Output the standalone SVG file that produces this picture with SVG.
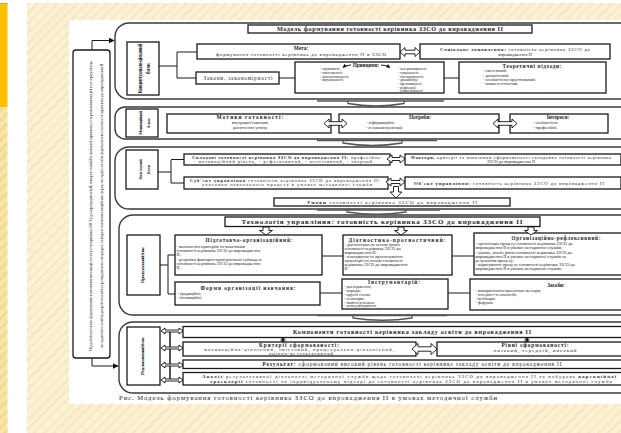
<svg xmlns="http://www.w3.org/2000/svg" width="621" height="433" viewBox="0 0 621 433">
<defs>
<pattern id="st" width="7" height="7" patternUnits="userSpaceOnUse" patternTransform="rotate(45)"><rect width="7" height="7" fill="#FBF1D6"/><rect width="2.5" height="7" fill="#F7E8C0"/></pattern>
<pattern id="st2" width="7" height="7" patternUnits="userSpaceOnUse" patternTransform="rotate(45)"><rect width="7" height="7" fill="#F8E5AE"/><rect width="3" height="7" fill="#F1D98E"/></pattern>
<marker id="ah" viewBox="0 0 10 10" refX="9" refY="5" markerWidth="6" markerHeight="6" orient="auto"><path d="M0,0 L10,5 L0,10 Z" fill="#111"/></marker>
<marker id="ahs" viewBox="0 0 10 10" refX="9" refY="5" markerWidth="4" markerHeight="4" orient="auto"><path d="M0,0 L10,5 L0,10 Z" fill="#111"/></marker>
</defs>
<style>
.bx{fill:#fff;stroke:#1a1a1a;stroke-width:1.3}
.sec{fill:#fff;stroke:#3a3a3a;stroke-width:1.4}
.ln{fill:none;stroke:#1a1a1a;stroke-width:1}
.da{fill:#fff;stroke:#111;stroke-width:0.9}
.br{fill:none;stroke:#555;stroke-width:1.3}
.t{font-family:"Liberation Serif","Times New Roman",serif;font-size:4.4px;fill:#1e1e1e}
.s{font-size:3.8px}
.b{font-weight:bold}
.c{text-anchor:middle}
</style>

<g id="background">
<rect x="0" y="0" width="621" height="433" fill="#fff"/>
<rect x="27" y="3" width="594" height="430" fill="url(#st)"/>
<rect x="0" y="3" width="7.5" height="104" fill="#FFC000"/>
<line x1="0" y1="3.3" x2="7.5" y2="3.3" stroke="#999" stroke-width="0.6"/>
<rect x="0" y="107" width="7.5" height="326" fill="url(#st2)"/>
<rect x="69" y="20" width="552" height="384" fill="#fff"/>
</g>

<g id="sections">
<rect class="sec" x="115" y="23" width="540" height="76" rx="14"/>
<rect class="sec" x="115" y="107" width="540" height="32" rx="10"/>
<rect class="sec" x="115" y="147" width="540" height="62" rx="14"/>
<rect class="sec" x="119" y="215" width="540" height="100" rx="14"/>
<rect class="sec" x="119" y="322" width="540" height="71" rx="14"/>
</g>

<g id="left-box">
<rect class="bx" x="73" y="50" width="37" height="308" rx="3"/>
<text class="t c" style="font-size:5px;fill:#444" textLength="290" transform="translate(91.5,206) rotate(-90)">Педагогічні умови: формування позитивної мотивації готовності керівника ЗЗСО до впровадження ІІ; використання ІІ в навчанні керівника; створення інноваційного середовища</text>
<text class="t c" style="font-size:5px;fill:#444" textLength="285" transform="translate(102.5,206) rotate(-90)">методичної служби; розроблення й упровадження спецкурсу; використання інноваційних форм, методів і засобів формування готовності керівника до впровадження ІІ</text>
</g>

<g id="title">
<rect class="bx" x="248" y="25" width="284" height="8"/>
<text class="t b c" style="font-size:6.2px" x="390" y="31.2" textLength="226">Модель формування готовності керівника ЗЗСО до впровадження ІІ</text>
</g>

<g id="label-1">
<rect class="bx" x="127" y="42" width="32" height="53"/>
<text class="t b c" style="font-size:5.2px" textLength="50" transform="translate(141.5,68.5) rotate(-90)">Концептуально-цільовий</text>
<text class="t b c" style="font-size:5.2px" transform="translate(149.5,68.5) rotate(-90)">блок</text>
</g>

<g id="meta">
<rect class="bx" x="197" y="44" width="203" height="15"/>
<text class="t b c" style="font-size:5.3px" x="301" y="50.3">Мета:</text>
<text class="t c" style="font-size:5px" x="301" y="56.2" textLength="170">формування готовності керівника до впровадження ІІ в ЗЗСО</text>
</g>

<g id="social">
<rect class="bx" x="420" y="44" width="190" height="15"/>
<text class="t c" style="font-size:4.8px" x="515" y="50.6" textLength="150"><tspan class="b">Соціальне замовлення:</tspan> готовність керівника ЗЗСО до</text>
<text class="t c" style="font-size:4.8px" x="515" y="55.8">впровадження ІІ</text>
</g>

<g id="laws">
<rect class="bx" x="196" y="72" width="83" height="12"/>
<text class="t c" style="font-size:5.3px" x="238" y="79.8" textLength="69">Закони, закономірності</text>
</g>

<g id="principles">
<rect class="bx" x="295" y="62" width="149" height="31"/>
<text class="t b c" style="font-size:5.2px" x="366" y="66.8">Принципи:</text>
<path class="ln" d="M351,65 Q346,65 343,67.5" marker-end="url(#ahs)"/>
<path class="ln" d="M381,65 Q386,65 390,67.5" marker-end="url(#ahs)"/>
<text class="t s" x="320" y="70.2">- науковості;</text>
<text class="t s" x="320" y="73.9">- системності;</text>
<text class="t s" x="320" y="77.6">- діагностичності;</text>
<text class="t s" x="320" y="81.3">- актуальності;</text>
<text class="t s" x="398" y="70.2">- інтерактивності;</text>
<text class="t s" x="398" y="73.9">- гуманності;</text>
<text class="t s" x="398" y="77.6">- послідовності;</text>
<text class="t s" x="398" y="81.3">- динамізму;</text>
<text class="t s" x="398" y="85">- креативності;</text>
<text class="t s" x="398" y="88.7">- рефлексії;</text>
<text class="t s" x="398" y="92.2">- самостійності</text>
</g>

<g id="theory">
<rect class="bx" x="459" y="62" width="147" height="31"/>
<text class="t b c" style="font-size:5.2px" x="532" y="67.6" textLength="59">Теоретичні підходи:</text>
<text class="t" x="483" y="72.2">- системний;</text>
<text class="t" x="483" y="76.6">- діяльнісний;</text>
<text class="t" x="483" y="81">- особистісно-орієнтований;</text>
<text class="t" x="483" y="85.4">- компетентнісний.</text>
</g>

<g id="label-2">
<rect class="bx" x="126" y="109" width="32" height="28"/>
<text class="t b c" style="font-size:4.5px" textLength="24" transform="translate(141.5,123) rotate(-90)">Мотиваційний</text>
<text class="t b c" style="font-size:4.5px" transform="translate(149.5,123) rotate(-90)">блок</text>
</g>

<g id="motives">
<rect class="bx" x="167" y="114" width="164" height="19"/>
<text class="t b c" style="font-size:5.3px" x="250" y="119.2" textLength="67">Мотиви готовності:</text>
<text class="t c" x="250" y="124.2">внутрішні/зовнішні</text>
<text class="t c" x="250" y="129.2">досягнення успіху</text>
</g>

<g id="needs">
<rect class="bx" x="339" y="114" width="160" height="19"/>
<text class="t b c" style="font-size:5.3px" x="420" y="119.2">Потреби:</text>
<text class="t" x="366" y="124.2">- інформаційні;</text>
<text class="t" x="366" y="129.2">- в самоактуалізації</text>
</g>

<g id="interests">
<rect class="bx" x="510" y="114" width="98" height="19"/>
<text class="t b c" style="font-size:5.3px" x="558" y="119.2">Інтереси:</text>
<text class="t" x="533" y="124.2">- особистісні;</text>
<text class="t" x="533" y="129.2">- професійні.</text>
</g>

<g id="label-3">
<rect class="bx" x="126" y="150" width="32" height="39"/>
<text class="t b c" style="font-size:4.5px" transform="translate(141.5,169.5) rotate(-90)">Змістовий</text>
<text class="t b c" style="font-size:4.5px" transform="translate(149.5,169.5) rotate(-90)">блок</text>
</g>

<g id="components">
<rect class="bx" x="184" y="154" width="206" height="11"/>
<text class="t c" style="font-size:4.4px" x="287" y="158.7" textLength="190"><tspan class="b">Складові готовності керівника ЗЗСО до впровадження ІІ:</tspan> професійно-</text>
<text class="t c" style="font-size:4.4px" x="284" y="163.3" textLength="180">- мотиваційний рівень, - рефлексивний, - когнітивний, - творчий.</text>
</g>

<g id="factors">
<rect class="bx" x="405" y="154" width="216" height="11"/>
<text class="t c" style="font-size:4.4px" x="511" y="158.7" textLength="200"><tspan class="b">Фактори,</tspan> критерії та показники сформованості складових готовності керівника</text>
<text class="t c" style="font-size:4.4px" x="511" y="163.3">ЗЗСО до впровадження ІІ</text>
</g>

<g id="subject">
<rect class="bx" x="184" y="177" width="204" height="12"/>
<text class="t c" style="font-size:4.4px" x="285" y="181.9" textLength="190"><tspan class="b">Суб'єкт управління</tspan> готовністю керівника ЗЗСО до впровадження ІІ:</text>
<text class="t c" style="font-size:4.4px" x="287" y="186.4" textLength="170">учасники навчального процесу в умовах методичної служби</text>
</g>

<g id="object">
<rect class="bx" x="405" y="177" width="216" height="12"/>
<text class="t c" style="font-size:4.8px" x="509" y="184.7" textLength="190"><tspan class="b">Об'єкт управління:</tspan> готовність керівника ЗЗСО до впровадження ІІ</text>
</g>

<g id="conditions">
<rect class="bx" x="274" y="198" width="236" height="8"/>
<text class="t c" style="font-size:5px" x="392" y="203.9" textLength="170"><tspan class="b">Умови</tspan> готовності керівника ЗЗСО до впровадження ІІ</text>
</g>

<g id="technology">
<rect class="bx" x="225" y="217" width="315" height="9.5"/>
<text class="t b c" style="font-size:7px" x="382" y="224.4" textLength="281">Технологія управління: готовність керівника ЗЗСО до впровадження ІІ</text>
</g>

<g id="label-4">
<rect class="bx" x="127" y="235" width="33" height="60"/>
<text class="t b c" style="font-size:5px" textLength="36" transform="translate(143.5,265) rotate(-90)">Процесуальний блок</text>
</g>

<g id="preparatory">
<rect class="bx" x="175" y="235" width="147" height="40"/>
<text class="t b c" style="font-size:5.2px" x="249" y="242.4" textLength="87">Підготовчо-організаційний:</text>
<text class="t" x="176.5" y="247.5">- визначення критеріїв та показників</text>
<text class="t" x="176.5" y="251.5">готовності керівника ЗЗСО до впровадження</text>
<text class="t" x="176.5" y="255.5">ІІ;</text>
<text class="t" x="176.5" y="260.5">- розробка факторно-критеріальної субмоделі</text>
<text class="t" x="176.5" y="264.5">готовності керівника ЗЗСО до впровадження</text>
<text class="t" x="176.5" y="268.5">ІІ.</text>
</g>

<g id="diagnostic">
<rect class="bx" x="343" y="235" width="109" height="40"/>
<text class="t b c" style="font-size:5.2px" x="397" y="241.6" textLength="97">Діагностико-прогностичний:</text>
<text class="t" x="344.5" y="245.8">- діагностика на основі даних</text>
<text class="t" x="344.5" y="249.7">готовності керівника ЗЗСО до</text>
<text class="t" x="344.5" y="253.6">впровадження ІІ;</text>
<text class="t" x="344.5" y="258">- планування та прогнозування</text>
<text class="t" x="344.5" y="261.9">траєкторії на основі готовності</text>
<text class="t" x="344.5" y="265.8">керівника ЗЗСО до впровадження</text>
<text class="t" x="344.5" y="269.7">ІІ</text>
</g>

<g id="reflexive">
<rect class="bx" x="474" y="233" width="160" height="42"/>
<text class="t b c" style="font-size:5.2px" x="556" y="240.4" textLength="89">Організаційно-рефлексивний:</text>
<text class="t" x="475.5" y="245">- організація процесу готовності керівника ЗЗСО до</text>
<text class="t" x="475.5" y="249">впровадження ІІ в умовах методичної служби;</text>
<text class="t" x="475.5" y="253.5">- оцінка, аналіз рівня готовності керівника ЗЗСО до</text>
<text class="t" x="475.5" y="257.5">впровадження ІІ в умовах методичної служби та</text>
<text class="t" x="475.5" y="261.5">результатів процесу;</text>
<text class="t" x="475.5" y="266">- коригування процесу готовності керівника ЗЗСО до</text>
<text class="t" x="475.5" y="270">впровадження ІІ в умовах методичної служби.</text>
</g>

<g id="forms">
<rect class="bx" x="175" y="282" width="145" height="23"/>
<text class="t b c" style="font-size:5.2px" x="248" y="289.6" textLength="95">Форми організації навчання:</text>
<text class="t" x="177" y="294.6">- традиційні;</text>
<text class="t" x="177" y="299.1">- інноваційні.</text>
</g>

<g id="tools">
<rect class="bx" x="342" y="279" width="106" height="30"/>
<text class="t b c" style="font-size:5.2px" x="394" y="283.5" textLength="52">Інструментарій:</text>
<text class="t" x="344" y="287.5">- дослідження;</text>
<text class="t" x="344" y="291.5">- поради;</text>
<text class="t" x="344" y="295.5">- круглі столи;</text>
<text class="t" x="344" y="299.5">- семінари;</text>
<text class="t" x="344" y="303.5">- майстер-класи;</text>
<text class="t" x="344" y="307.4">- консультування.</text>
</g>

<g id="means">
<rect class="bx" x="470" y="279" width="164" height="31"/>
<text class="t b c" style="font-size:5.2px" x="556" y="287.4">Засоби:</text>
<text class="t" x="475.5" y="292.1">- використання проектних методів;</text>
<text class="t" x="475.5" y="296.1">- інтернет-технологій;</text>
<text class="t" x="475.5" y="300.1">- вебінари;</text>
<text class="t" x="475.5" y="304.1">- форуми.</text>
</g>

<g id="label-5">
<rect class="bx" x="127" y="327" width="33" height="58"/>
<text class="t b c" style="font-size:5px" textLength="38" transform="translate(143.5,356) rotate(-90)">Результативний блок</text>
</g>

<g id="readiness-components">
<rect class="bx" x="183" y="326.5" width="450" height="11"/>
<text class="t b c" style="font-size:6px" x="412" y="334.2" textLength="238">Компоненти готовності керівника закладу освіти до впровадження ІІ</text>
</g>

<g id="criteria">
<rect class="bx" x="183" y="342" width="233" height="14"/>
<text class="t b c" style="font-size:5.2px" x="299" y="346.6" textLength="80">Критерії сформованості:</text>
<text class="t c" style="font-size:4.6px" x="299" y="350.8" textLength="190">мотиваційно-ціннісний, змістовий, процесуально-діяльнісний,</text>
<text class="t c" style="font-size:4.6px" x="301" y="354.8" textLength="64">оцінно-результативний</text>
</g>

<g id="levels">
<rect class="bx" x="437" y="342" width="196" height="14"/>
<text class="t b c" style="font-size:5.4px" x="535" y="347.2" textLength="67">Рівні сформованості:</text>
<text class="t c" style="font-size:5px" x="535" y="352.4" textLength="83">низький, середній, високий</text>
</g>

<g id="result">
<rect class="bx" x="183" y="360" width="450" height="8.5"/>
<text class="t c" style="font-size:5.3px" x="412" y="366" textLength="299"><tspan class="b">Результат:</tspan> сформований високий рівень готовності керівника закладу освіти до впровадження ІІ</text>
</g>

<g id="analysis">
<rect class="bx" x="183" y="372.5" width="450" height="12.5"/>
<text class="t" style="font-size:4.7px" x="202" y="378.1" textLength="414"><tspan class="b">Аналіз</tspan> результативної діяльності методичної служби щодо готовності керівника ЗЗСО до впровадження ІІ та побудова <tspan class="b">корекційної</tspan></text>
<text class="t" style="font-size:4.7px" x="210" y="382.7" textLength="402"><tspan class="b">траєкторії</tspan> готовності на індивідуальному підході до готовності керівника ЗЗСО до впровадження ІІ в умовах методичної служби</text>
</g>

<g id="caption">
<text class="t" style="font-size:6.6px" x="119" y="400" textLength="378">Рис. Модель формування готовності керівника ЗЗСО до впровадження ІІ в умовах методичної служби</text>
</g>

<g id="connectors">
<path class="ln" d="M92,50 V40.5 H114" marker-end="url(#ah)" stroke-width="1.2"/>
<path class="ln" d="M92,358 V366 H118" marker-end="url(#ah)" stroke-width="1.2"/>
<path class="ln" d="M159,66 H177 M177,52 V78 M177,52 H197 M177,78 H196"/>
<path class="ln" d="M279,78 H295 M444,78 H459"/>
<path class="ln" d="M158,172 H171 M171,160 V183 M171,159.5 H184 M171,183 H184"/>
<path class="ln" d="M160,265 H168 M168,255 V294 M168,255 H175 M168,294 H175"/>
<path class="ln" d="M322,256 H343 M452,256 H474 M320,293 H342 M448,293 H470"/>
<polygon class="da" points="400,52 405,47.5 405,50.2 415,50.2 415,47.5 420,52 415,56.5 415,53.8 405,53.8 405,56.5"/>
<polygon class="da" points="324,123.5 329,119 329,121.7 342,121.7 342,119 347,123.5 342,128 342,125.3 329,125.3 329,128"/>
<polygon class="da" points="493,123.5 498,119 498,121.7 512,121.7 512,119 517,123.5 512,128 512,125.3 498,125.3 498,128"/>
<polygon class="da" points="387,159 392,155 392,157.5 400,157.5 400,155 405,159 400,163 400,160.5 392,160.5 392,163"/>
<polygon class="da" points="386,182 391,178 391,180.5 400,180.5 400,178 405,182 400,186 400,183.5 391,183.5 391,186"/>
<polygon class="da" points="393.5,186.5 398.5,186.5 398.5,192 402,192 396,198 390,192 393.5,192"/>
<polygon class="da" points="263,227 269,227 269,230.5 272.5,230.5 266,235 259.5,230.5 263,230.5"/>
<polygon class="da" points="398,227 404,227 404,230.5 407.5,230.5 401,235 394.5,230.5 398,230.5"/>
<polygon class="da" points="528,227 534,227 534,230.5 537.5,230.5 531,235 524.5,230.5 528,230.5"/>
<polygon class="da" points="412,349 418,343.5 418,346.8 431,346.8 431,343.5 437,349 431,354.5 431,351.2 418,351.2 418,354.5"/>
<polygon fill="#222" points="283,337.4 286,339.5 284.2,339.5 284.2,340.5 286,340.5 283,342.4 280,340.5 281.8,340.5 281.8,339.5 280,339.5"/>
<polygon fill="#222" points="527,337.4 530,339.5 528.2,339.5 528.2,340.5 530,340.5 527,342.4 524,340.5 525.8,340.5 525.8,339.5 524,339.5"/>
<line x1="170" y1="331" x2="170" y2="380" stroke="#1a1a1a" stroke-width="1.5"/>
<polygon class="da" points="161,331 165,328 165,330 179,330 179,328 183,331 179,334 179,332 165,332 165,334"/>
<polygon class="da" points="161,348 165,345 165,347 179,347 179,345 183,348 179,351 179,349 165,349 165,351"/>
<polygon class="da" points="161,365 165,362 165,364 179,364 179,362 183,365 179,368 179,366 165,366 165,368"/>
<polygon class="da" points="161,380 165,377 165,379 179,379 179,377 183,380 179,383 179,381 165,381 165,383"/>
<path class="br" d="M317,101 H444 M348,101 V103.5 Q376,108.5 404,103.5 V101"/>
<path class="br" d="M317,140.5 H437 M343,140.5 V143 Q372,148 402,143 V140.5"/>
<path class="br" d="M317,210 H440 M347,210 V212 Q376,216.5 406,212 V210"/>
<path class="br" d="M317,315.5 H447 M353,315.5 V318 Q382,322.5 412,318 V315.5"/>
</g>
</svg>
